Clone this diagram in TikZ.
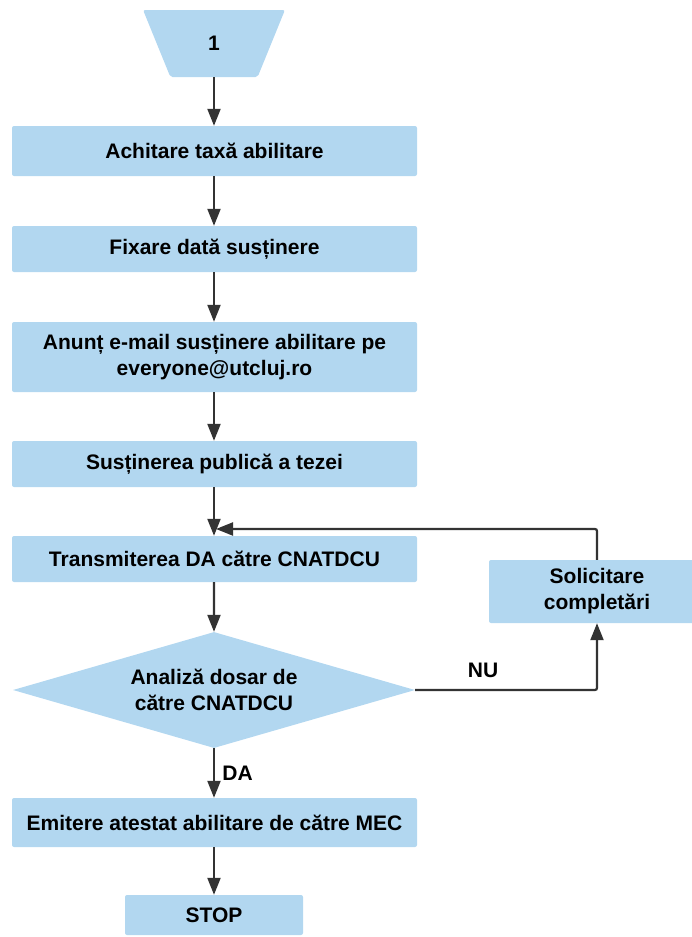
\documentclass[tikz,border=0pt]{standalone}
\usepackage{fontspec}
\setmainfont{Liberation Sans}
\usetikzlibrary{arrows.meta,shapes.geometric}
\definecolor{boxblue}{RGB}{178,215,240}
\definecolor{linegray}{RGB}{51,51,51}
\tikzset{
  txt/.style={font=\bfseries\fontsize{21}{26}\selectfont, text=black, align=center},
  procbox/.style={txt, fill=boxblue, rounded corners=2pt, inner sep=0pt},
  arr/.style={draw=linegray, line width=2.2pt, -{Triangle[width=13pt,length=17pt]}},
  lbl/.style={txt}
}
\begin{document}
\begin{tikzpicture}[x=1pt,y=-1pt]
\useasboundingbox (0,0) rectangle (692,937);
\node[txt, trapezium, fill=boxblue, trapezium angle=75.8, shape border rotate=180,
      trapezium stretches=true, minimum width=142pt, minimum height=67pt,
      inner sep=0pt, rounded corners=2pt] (t1) at (214,43.5) {1};
\node[procbox, minimum width=405pt, minimum height=50pt] (b1) at (214.5,151) {Achitare taxă abilitare};
\node[procbox, minimum width=405pt, minimum height=46pt] (b2) at (214.5,249) {Fixare dată susținere};
\node[procbox, minimum width=405pt, minimum height=70pt] (b3) at (214.5,357) {Anunț e-mail susținere abilitare pe\\everyone@utcluj.ro};
\node[procbox, minimum width=405pt, minimum height=46pt] (b4) at (214.5,464) {Susținerea publică a tezei};
\node[procbox, minimum width=405pt, minimum height=46pt] (b5) at (214.5,559) {Transmiterea DA către CNATDCU};
\node[txt, diamond, fill=boxblue, aspect=3.45, minimum width=402pt, minimum height=116pt, inner sep=0pt] (d1) at (214,690) {Analiză dosar de\\către CNATDCU};
\node[procbox, minimum width=216pt, minimum height=63pt] (sol) at (597,591.5) {Solicitare\\completări};
\node[procbox, minimum width=405pt, minimum height=49pt] (b6) at (214.5,822.5) {Emitere atestat abilitare de către MEC};
\node[procbox, minimum width=178pt, minimum height=40pt] (stop) at (214,915) {STOP};
\coordinate (loopend) at (216,529);
\coordinate (nucorner) at (597,690);
\draw[arr] (t1.south) -- (t1.south |- b1.north);
\draw[arr] (b1.south -| t1.south) -- (t1.south |- b2.north);
\draw[arr] (b2.south -| t1.south) -- (t1.south |- b3.north);
\draw[arr] (b3.south -| t1.south) -- (t1.south |- b4.north);
\draw[arr] (b4.south -| t1.south) -- (t1.south |- b5.north);
\draw[arr] (b5.south -| t1.south) -- (d1.north);
\draw[arr] (d1.south) -- (d1.south |- b6.north) node[lbl, pos=0.5, right=4pt] (da) {DA};
\draw[arr] (b6.south -| t1.south) -- (t1.south |- stop.north);
\draw[arr, rounded corners=2pt] (d1.east) -- (nucorner) -- (sol.south);
\draw[arr, rounded corners=2pt] (sol.north) |- (loopend);
\node[lbl] (nu) at (483,670) {NU};
\end{tikzpicture}
\end{document}
